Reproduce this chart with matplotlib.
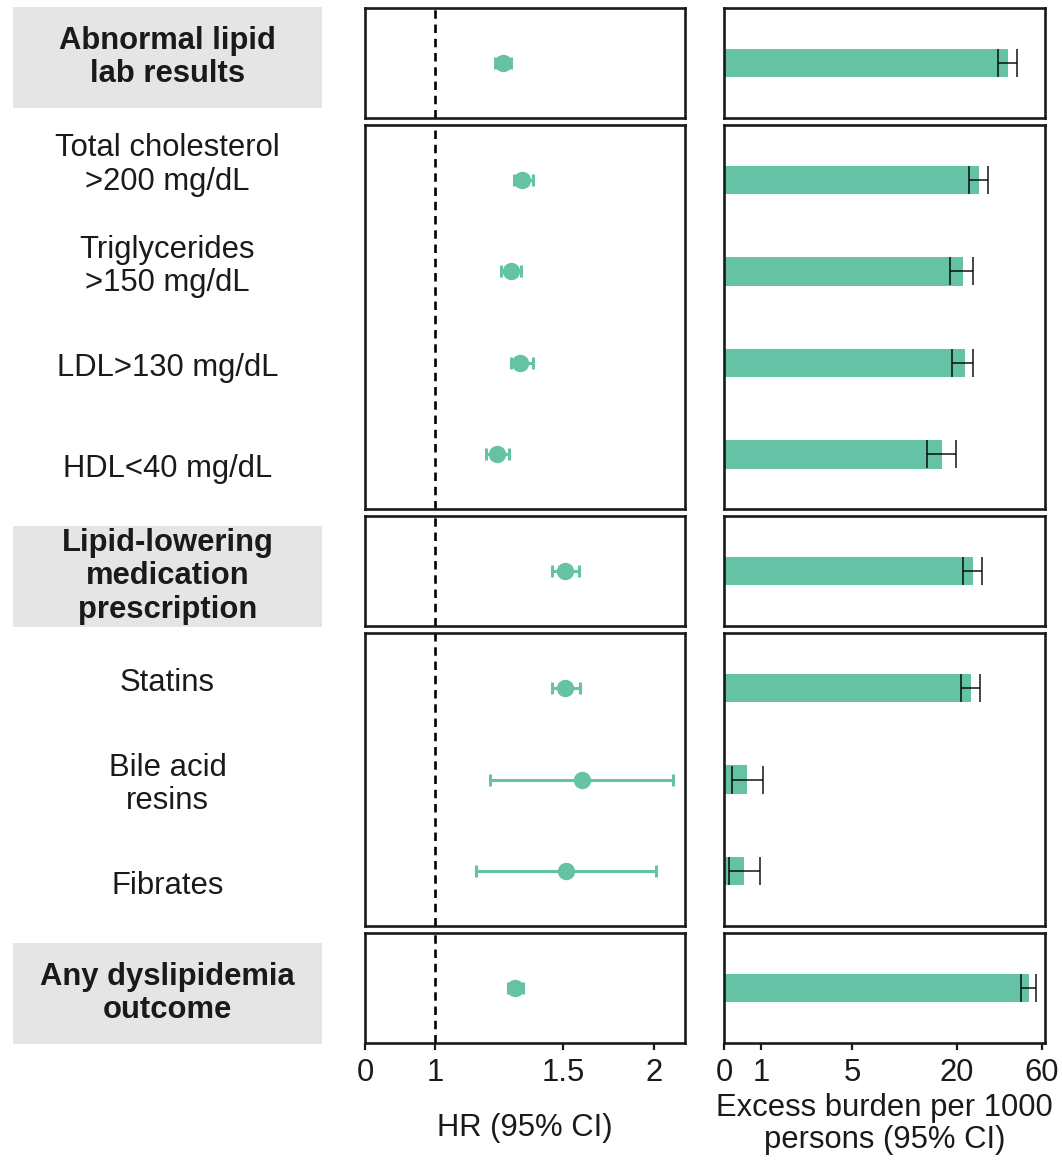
import numpy as np
import matplotlib
matplotlib.use("Agg")
import matplotlib.pyplot as plt

plt.rcParams['font.family'] = ['Liberation Sans', 'DejaVu Sans']

# labels per panel (top to bottom)
panel_labels = [
    ["Abnormal lipid\nlab results"],
    ["Total cholesterol\n>200 mg/dL", "Triglycerides\n>150 mg/dL", "LDL>130 mg/dL", "HDL<40 mg/dL"],
    ["Lipid-lowering\nmedication\nprescription"],
    ["Statins", "Bile acid\nresins", "Fibrates"],
    ["Any dyslipidemia\noutcome"],
]
panel_header = [True, False, True, False, True]

# hazard ratios (95% CI), same order as labels
hr    = [1.240, 1.317, 1.272, 1.309, 1.217, 1.509, 1.509, 1.592, 1.514, 1.288]
hr_lo = [1.210, 1.284, 1.232, 1.272, 1.175, 1.448, 1.448, 1.190, 1.139, 1.260]
hr_hi = [1.270, 1.364, 1.313, 1.364, 1.264, 1.577, 1.582, 2.124, 2.013, 1.320]

# excess burden per 1000 persons (95% CI)
burden    = [38.7, 26.6, 21.7, 22.2, 16.5, 24.7, 24.0, 0.59, 0.52, 50.8]
burden_lo = [34.0, 23.4, 18.3, 18.8, 13.6, 21.7, 21.1, 0.20, 0.14, 45.8]
burden_hi = [43.5, 29.9, 24.7, 24.7, 19.8, 27.7, 27.0, 1.04, 0.96, 55.6]

hr_ticks = [0, 1, 1.5, 2]
burden_ticks = [0, 1, 5, 20, 60]

green = '#66C2A5'
ink = '#1a1a1a'
fs = 22.3


def hr_fwd(x):
    x = np.asarray(x, dtype=float)
    return np.where(x >= 1, np.log2(np.maximum(x, 1)), 0.32 * (x - 1))


def hr_inv(y):
    y = np.asarray(y, dtype=float)
    return np.where(y >= 0, 2.0 ** y, 1 + y / 0.32)


def pl_fwd(x):
    return np.arcsinh(np.asarray(x, dtype=float) / 2)


def pl_inv(y):
    return 2 * np.sinh(np.asarray(y, dtype=float))


W, H = 1062, 1162
fig = plt.figure(figsize=(W / 100, H / 100), dpi=100)

sizes = [len(p) for p in panel_labels]

gs_lab = fig.add_gridspec(5, 1, left=13 / W, right=322 / W, top=1 - 7 / H, bottom=1 - 1044 / H,
                          height_ratios=sizes, hspace=0.03)
gs_hr = fig.add_gridspec(5, 1, left=365 / W, right=685 / W, top=1 - 8 / H, bottom=1 - 1043 / H,
                         height_ratios=[n + 0.2 for n in sizes], hspace=0.035)
gs_bd = fig.add_gridspec(5, 1, left=724 / W, right=1045 / W, top=1 - 8 / H, bottom=1 - 1043 / H,
                         height_ratios=[n + 0.2 for n in sizes], hspace=0.035)

k = 0
for i, labs in enumerate(panel_labels):
    n = len(labs)
    ys = np.arange(n, 0, -1)
    sl = slice(k, k + n)
    k += n

    # label column
    axl = fig.add_subplot(gs_lab[i])
    axl.set_xlim(0, 1)
    axl.set_ylim(0.5, n + 0.5)
    axl.set_xticks([])
    axl.set_yticks([])
    for s in axl.spines.values():
        s.set_visible(False)
    if panel_header[i]:
        axl.set_facecolor('#E5E5E5')
    else:
        axl.patch.set_visible(False)
    for y, t in zip(ys, labs):
        axl.text(0.5, y, t, ha='center', va='center', fontsize=fs, color=ink,
                 fontweight='bold' if panel_header[i] else 'normal', linespacing=1.15)

    # forest panel
    axf = fig.add_subplot(gs_hr[i])
    axf.set_xscale('function', functions=(hr_fwd, hr_inv))
    axf.set_xlim(0, 2.207)
    axf.set_ylim(0.4, n + 0.6)
    axf.axvline(1, color='black', lw=1.9, ls=(0, (3.2, 2.2)), zorder=1)
    h = np.array(hr[sl])
    axf.errorbar(h, ys, xerr=[h - np.array(hr_lo[sl]), np.array(hr_hi[sl]) - h],
                 fmt='o', color=green, ms=11.5, elinewidth=2.2, capsize=4, capthick=2.2, zorder=3)

    # burden panel
    axb = fig.add_subplot(gs_bd[i])
    axb.set_xscale('function', functions=(pl_fwd, pl_inv))
    axb.set_xlim(0, 62.4)
    axb.set_ylim(0.4, n + 0.6)
    b = np.array(burden[sl])
    axb.barh(ys, b, height=0.31, color=green, zorder=2)
    axb.errorbar(b, ys, xerr=[b - np.array(burden_lo[sl]), np.array(burden_hi[sl]) - b],
                 fmt='none', ecolor='black', elinewidth=1.2, capsize=10, capthick=1.2, alpha=0.85, zorder=3)

    for ax in (axf, axb):
        ax.set_yticks([])
        for s in ax.spines.values():
            s.set_linewidth(1.9)
            s.set_color(ink)
        if i == len(panel_labels) - 1:
            ax.tick_params(axis='x', length=5, width=1.6, color=ink, labelsize=fs, labelcolor=ink, pad=6)
        else:
            ax.set_xticks([])
            ax.minorticks_off()

    if i == len(panel_labels) - 1:
        axf.set_xticks(hr_ticks)
        axf.set_xticklabels([f'{t:g}' for t in hr_ticks])
        axf.minorticks_off()
        axb.set_xticks(burden_ticks)
        axb.set_xticklabels([f'{t:g}' for t in burden_ticks])
        axb.minorticks_off()

fig.text(525 / W, 1 - 1128 / H, 'HR (95% CI)', ha='center', va='center', fontsize=fs, color=ink)
fig.text(884.5 / W, 1 - 1124 / H, 'Excess burden per 1000\npersons (95% CI)', ha='center', va='center',
         fontsize=fs, color=ink, linespacing=1.05)

fig.savefig('out.png', dpi=100)
